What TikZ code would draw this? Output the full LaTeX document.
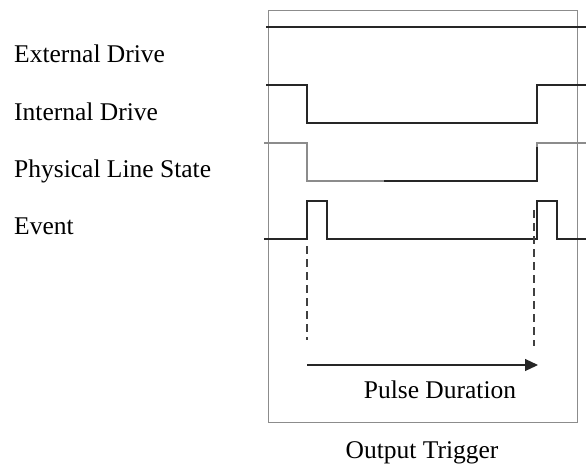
\documentclass[tikz,border=0pt]{standalone}
\usepackage{fontspec}
\setmainfont{Liberation Serif}
\usetikzlibrary{arrows.meta}
\begin{document}
\begin{tikzpicture}[x=1pt,y=-1pt,
  sig/.style={line width=1.2pt,black!85},
  gsig/.style={line width=1.2pt,black!45},
  txt/.style={inner sep=0pt,font=\fontsize{25.5}{26}\selectfont},
  lbl/.style={txt,anchor=base west},
  dashline/.style={line width=1.2pt,black!75,dash pattern=on 8pt off 5pt}]
\useasboundingbox (0,0) rectangle (586,464);
\draw[black!45,line width=0.8pt] (268,10) rectangle (577,422);
\node[lbl] (ext) at (14,62) {External Drive};
\node[lbl] (int) at (14,120) {Internal Drive};
\node[lbl] (phy) at (14,177) {Physical Line State};
\node[lbl] (evt) at (14,234) {Event};
\draw[sig] (266,27) -- (586,27);
\draw[sig] (266,85) -- (307,85) -- (307,123) -- (537,123) -- (537,85) -- (586,85);
\draw[gsig] (264,143) -- (307,143) -- (307,181) -- (384,181);
\draw[sig] (384,181) -- (537,181) -- (537,147);
\draw[gsig] (537,147) -- (537,143) -- (586,143);
\draw[sig] (264,239) -- (307,239) -- (307,201) -- (327,201) -- (327,239) -- (537,239) -- (537,201) -- (557,201) -- (557,239) -- (586,239);
\coordinate (d1a) at (307,246);
\coordinate (d1b) at (307,340);
\coordinate (d2a) at (534,210);
\coordinate (d2b) at (534,346);
\draw[dashline] (d1a) -- (d1b);
\draw[dashline] (d2a) -- (d2b);
\coordinate (as) at (307,365);
\coordinate (ae) at (538,365);
\draw[sig,-{Triangle[length=13pt,width=12pt]}] (as) -- (ae);
\node[txt,anchor=base] (pd) at (440,398) {Pulse Duration};
\node[txt,anchor=base] (ot) at (422,458) {Output Trigger};
\end{tikzpicture}
\end{document}
